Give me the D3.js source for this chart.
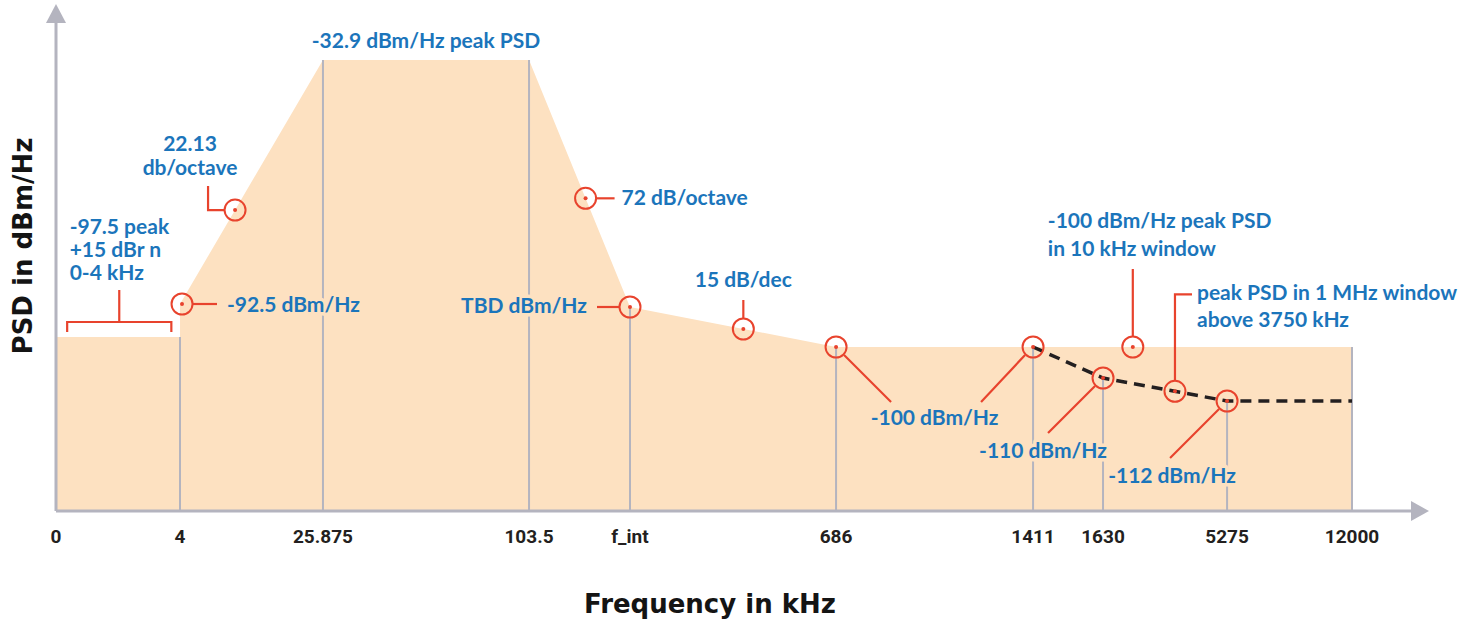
<!DOCTYPE html>
<html lang="en">
<head>
<meta charset="UTF-8">
<title>PSD mask</title>
<script src="https://d3js.org/d3.v7.min.js"></script>
<style>
  body { margin: 0; background: #fff; }
  .tick-label { font-family: "Liberation Sans Narrow", Roboto, sans-serif; font-weight: bold; font-size: 19px; fill: #231f20; }
  .note { font-family: Lato, "Open Sans", sans-serif; font-weight: bold; font-size: 21px; fill: #1b75bb; }
  .halo { stroke: #fde1c1; stroke-width: 7px; paint-order: stroke; stroke-linejoin: round; }
  .axis-title { font-family: "DejaVu Sans", sans-serif; font-weight: bold; font-size: 26px; fill: #141414; }
</style>
</head>
<body>
<svg width="1480" height="622"></svg>
<script>
// frequency axis categories (kHz)
var freqLabels = ["0", "4", "25.875", "103.5", "f_int", "686", "1411", "1630", "5275", "12000"];
// mask outline: position on the frequency axis (tick index) and level in dBm/Hz (TBD drawn as -93)
var maskPos = [0, 1, 1, 2, 3, 4, 5, 9];
var maskDb = [-97.5, -97.5, -92.5, -32.9, -32.9, -93, -100, -100];
// dashed limit above 1411 kHz
var dashPos = [6, 7, 8, 9];
var dashDb = [-100, -110, -112, -112];
// where each tick's vertical line stops
var gridDb = [null, -97.5, -32.9, -32.9, -93, -100, -100, -110, -112, -100];
var floorDb = -140;

// note texts
var txtPeak = ["-32.9 dBm/Hz peak PSD"];
var txtLow = ["-97.5 peak", "+15 dBr n", "0-4 kHz"];
var txt925 = ["-92.5 dBm/Hz"];
var txtUp = ["22.13", "db/octave"];
var txtDown = ["72 dB/octave"];
var txtTbd = ["TBD dBm/Hz"];
var txtDec = ["15 dB/dec"];
var txt100 = ["-100 dBm/Hz"];
var txt110 = ["-110 dBm/Hz"];
var txt112 = ["-112 dBm/Hz"];
var txt10k = ["-100 dBm/Hz peak PSD", "in 10 kHz window"];
var txt1M = ["peak PSD in 1 MHz window", "above 3750 kHz"];

var svg = d3.select("svg");
var left = 56, right = 1352, bottom = 511;
var W = right - left;

// schematic (non-linear) axes
var x = d3.scaleLinear()
  .domain(d3.range(freqLabels.length))
  .range([0, 0.0957, 0.2060, 0.3650, 0.4429, 0.6019, 0.7539, 0.8079, 0.9036, 1].map(function(f) { return left + f * W; }));
var y = d3.scaleLinear()
  .domain([floorDb, -112, -110, -100, -97.5, -93, -92.5, -32.9])
  .range([bottom, 401, 378, 347, 337, 307, 304, 60]);

var red = "#e8432d", gray = "#b4b4bf";

// pixel y on a polyline at tick position p (last matching segment wins)
function lineY(p, pos, db) {
  var out = null;
  for (var i = 0; i < pos.length - 1; i++) {
    if (p >= pos[i] && p <= pos[i + 1] && pos[i + 1] > pos[i]) {
      var t = (p - pos[i]) / (pos[i + 1] - pos[i]);
      out = y(db[i]) + t * (y(db[i + 1]) - y(db[i]));
    }
  }
  return out;
}

// shaded mask
var maskPts = maskPos.map(function(p, i) { return [p, maskDb[i]]; });
svg.append("path")
  .datum(maskPts)
  .attr("fill", "#fde1c1")
  .attr("d", d3.area()
    .x(function(d) { return x(d[0]); })
    .y0(y(floorDb))
    .y1(function(d) { return y(d[1]); }));

// vertical tick lines
svg.append("g").selectAll("line")
  .data(gridDb.map(function(d, i) { return { i: i, db: d }; }).filter(function(d) { return d.db !== null; }))
  .enter().append("line")
  .attr("x1", function(d) { return x(d.i); })
  .attr("x2", function(d) { return x(d.i); })
  .attr("y1", function(d) { return y(d.db); })
  .attr("y2", bottom)
  .attr("stroke", gray)
  .attr("stroke-width", 2);

// axes with arrow heads
svg.append("line").attr("x1", left).attr("x2", left).attr("y1", bottom).attr("y2", 22)
  .attr("stroke", gray).attr("stroke-width", 3);
svg.append("path").attr("d", "M46,23L56,4L66,23Z").attr("fill", gray);
svg.append("line").attr("x1", left).attr("x2", 1414).attr("y1", bottom).attr("y2", bottom)
  .attr("stroke", gray).attr("stroke-width", 3);
svg.append("path").attr("d", "M1411,501L1429,511L1411,521Z").attr("fill", gray);

// dashed limit
svg.append("path")
  .datum(dashPos.map(function(p, i) { return [p, dashDb[i]]; }))
  .attr("fill", "none")
  .attr("stroke", "#231f20")
  .attr("stroke-width", 3.5)
  .attr("stroke-dasharray", "11 7")
  .attr("d", d3.line().x(function(d) { return x(d[0]); }).y(function(d) { return y(d[1]); }));

// tick labels
svg.append("g").selectAll("text")
  .data(freqLabels)
  .enter().append("text")
  .attr("class", "tick-label")
  .attr("x", function(d, i) { return x(i); })
  .attr("y", 543)
  .attr("text-anchor", "middle")
  .text(function(d) { return d; });

// axis titles
svg.append("text").attr("class", "axis-title")
  .attr("x", 710).attr("y", 613).attr("text-anchor", "middle")
  .text("Frequency in kHz");
svg.append("text").attr("class", "axis-title")
  .attr("transform", "translate(32,246) rotate(-90)").attr("text-anchor", "middle")
  .text("PSD in dBm/Hz");

// helpers for notes
function label(lines, px, py, anchor, halo, gap) {
  var t = svg.append("text")
    .attr("class", "note" + (halo ? " halo" : ""))
    .attr("text-anchor", anchor || "start");
  lines.forEach(function(s, i) {
    t.append("tspan").attr("x", px).attr("y", py + i * (gap || 23)).text(s);
  });
}
var notes = svg.append("g");
function marker(cx, cy) {
  notes.append("circle").attr("cx", cx).attr("cy", cy).attr("r", 10.5)
    .attr("fill", "none").attr("stroke", red).attr("stroke-width", 2);
  notes.append("circle").attr("cx", cx).attr("cy", cy).attr("r", 2).attr("fill", red);
}
function leader(d) {
  notes.append("path").attr("d", d).attr("fill", "none")
    .attr("stroke", red).attr("stroke-width", 2.2);
}

// peak
label(txtPeak, (x(2) + x(3)) / 2, y(-32.9) - 12, "middle");

// 0-4 kHz bracket
var bx0 = x(0.09), bx1 = x(0.93), by = y(-97.5) - 15;
label(txtLow, x(0.11), 234, "start", false, 23);
leader("M" + bx0 + "," + (by + 10) + "V" + by + "H" + bx1 + "V" + (by + 10));
leader("M" + (bx0 + bx1) / 2 + "," + by + "V" + (by - 32));

// -92.5 at 4 kHz
var c = [x(1) + 2, lineY(1, maskPos, maskDb)];
label(txt925, c[0] + 45, c[1] + 8, "start", true);
leader("M" + (c[0] + 11) + "," + c[1] + "H" + (c[0] + 35));
marker(c[0], c[1]);

// rising slope
c = [x(1.385), lineY(1.385, maskPos, maskDb)];
label(txtUp, c[0] - 45, c[1] - 59, "middle", false, 24);
leader("M" + (c[0] - 11) + "," + c[1] + "H" + (c[0] - 27) + "V" + (c[1] - 24));
marker(c[0], c[1]);

// falling slope
c = [x(3.56), lineY(3.56, maskPos, maskDb)];
label(txtDown, c[0] + 36, c[1] + 7, "start");
leader("M" + (c[0] + 11) + "," + c[1] + "H" + (c[0] + 29));
marker(c[0], c[1]);

// TBD at f_int
c = [x(4), lineY(4, maskPos, maskDb)];
label(txtTbd, c[0] - 43, c[1] + 6, "end", true);
leader("M" + (c[0] - 11) + "," + c[1] + "H" + (c[0] - 33));
marker(c[0], c[1]);

// 15 dB/dec
c = [x(4.55), lineY(4.55, maskPos, maskDb)];
label(txtDec, c[0], c[1] - 42, "middle");
leader("M" + c[0] + "," + (c[1] - 11) + "V" + (c[1] - 29));
marker(c[0], c[1]);

// -100 at 686 and 1411
var c1 = [x(5), y(-100)], c2 = [x(6), y(-100)];
label(txt100, (c1[0] + c2[0]) / 2, 425, "middle", true);
leader("M" + (c1[0] + 8) + "," + (c1[1] + 8) + "L" + (c1[0] + 55) + "," + (c1[1] + 55));
leader("M" + (c2[0] - 8) + "," + (c2[1] + 8) + "L" + (c2[0] - 52) + "," + (c2[1] + 55));
marker(c1[0], c1[1]);
marker(c2[0], c2[1]);

// -110 at 1630
c = [x(7), y(-110)];
label(txt110, c[0] - 60, c[1] + 80, "middle", true);
leader("M" + (c[0] - 8) + "," + (c[1] + 8) + "L" + (c[0] - 55) + "," + (c[1] + 55));
marker(c[0], c[1]);

// -112 at 5275
c = [x(8), y(-112)];
label(txt112, c[0] - 55, c[1] + 82, "middle", true);
leader("M" + (c[0] - 8) + "," + (c[1] + 8) + "L" + (c[0] - 57) + "," + (c[1] + 57));
marker(c[0], c[1]);

// 10 kHz window
c = [x(7.24), lineY(7.24, maskPos, maskDb)];
label(txt10k, c[0] - 85, c[1] - 119, "start", false, 28);
leader("M" + c[0] + "," + (c[1] - 11) + "V" + (c[1] - 78));
marker(c[0], c[1]);

// 1 MHz window
c = [x(7.58), lineY(7.58, dashPos, dashDb)];
label(txt1M, c[0] + 22, c[1] - 91, "start", false, 27);
leader("M" + c[0] + "," + (c[1] - 11) + "V" + (c[1] - 97) + "H" + (c[0] + 17));
marker(c[0], c[1]);
</script>
</body>
</html>
